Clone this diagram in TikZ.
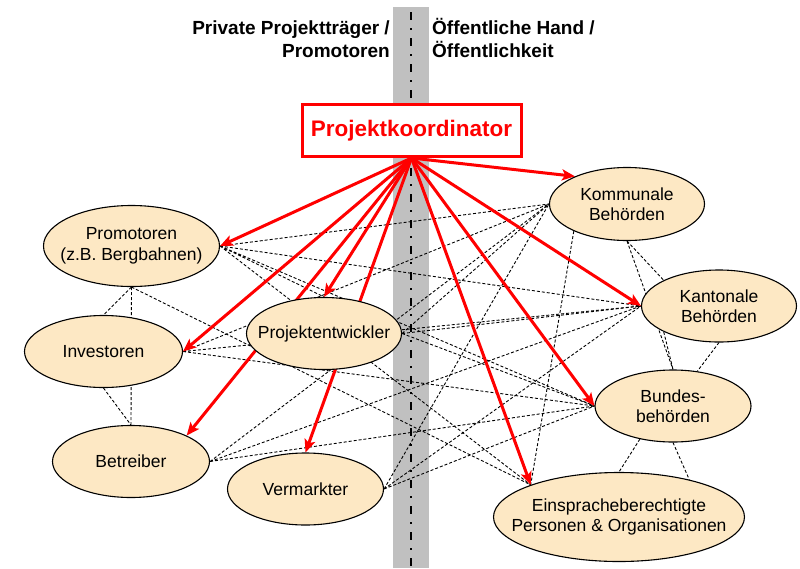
\documentclass[tikz,border=0pt]{standalone}
\usepackage{fontspec}
\setmainfont{Liberation Sans}
\usetikzlibrary{arrows.meta, shapes.geometric, backgrounds}
\definecolor{trenn}{HTML}{C0C0C0}
\definecolor{sand}{HTML}{FDE8C4}
\definecolor{signal}{HTML}{FF0000}

\begin{document}
\begin{tikzpicture}[x=1pt, y=-1pt,
  akteur/.style={ellipse, draw=black, line width=1.1pt, fill=sand,
    inner xsep=-30pt, inner ysep=0pt, align=center,
    font=\fontsize{17.5}{20.5}\selectfont},
  seite/.style={inner sep=0pt, font=\fontsize{19}{22.5}\selectfont\bfseries},
  koord/.style={rectangle, draw=signal, line width=3pt, fill=white,
    text=signal, minimum width=219pt, minimum height=52pt,
    font=\fontsize{22.5}{27}\selectfont\bfseries},
  auftrag/.style={-{Stealth[length=13pt, width=11pt, inset=3pt]},
    line width=3pt, signal},
  bezug/.style={dash pattern=on 3pt off 2pt, line width=0.9pt, black}]
  \useasboundingbox (0,0) rectangle (800,568);

  \node[seite, anchor=base east, align=right] (priv) at (390,57)
    {Private Projektträger /\\Promotoren};
  \node[seite, anchor=base west, align=left] (oeff) at (432,57)
    {Öffentliche Hand /\\Öffentlichkeit};
  \node[koord] (koo) at (411.5,130.5) {Projektkoordinator};

  \node[akteur, minimum width=176pt, minimum height=81pt] (pro) at (131.5,246)
    {Promotoren\\(z.B. Bergbahnen)};
  \node[akteur, minimum width=158pt, minimum height=72pt] (inv) at (103.5,351.5) {Investoren};
  \node[akteur, minimum width=157pt, minimum height=72pt] (bet) at (131,461.5) {Betreiber};
  \node[akteur, minimum width=155pt, minimum height=72pt] (pe) at (324,333.5) {Projektentwickler};
  \node[akteur, minimum width=156pt, minimum height=72pt] (ver) at (305.5,489) {Vermarkter};
  \node[akteur, minimum width=155pt, minimum height=73pt] (kom) at (627,204)
    {Kommunale\\Behörden};
  \node[akteur, minimum width=155pt, minimum height=72pt] (kan) at (719,306)
    {Kantonale\\Behörden};
  \node[akteur, minimum width=156pt, minimum height=72pt] (bun) at (673,406)
    {Bundes-\\behörden};
  \node[akteur, minimum width=251pt, minimum height=89pt] (ein) at (619,517)
    {Einspracheberechtigte\\Personen \& Organisationen};

  \begin{scope}[on background layer]
    \fill[trenn] (393,7) rectangle (429,568);
    \draw[line width=2pt, dash pattern=on 8pt off 8pt on 2pt off 8pt] (411,12) -- (411,568);

    \draw[bezug] (pro.east) -- (pe.north) (pro.east) -- (kom.west)
      (pro.east) -- (kan.west) (pro.east) -- (bun.west) (pro.east) -- (ein.160);
    \draw[bezug] (pro.south) -- (inv.north) (pro.south) -- (bet.north)
      (pro.south) -- (ein.160) (inv.south) -- (bet.north);
    \draw[bezug] (inv.east) -- (kom.west) (inv.east) -- (kan.west) (inv.east) -- (bun.west);
    \draw[bezug] (pe.east) -- (kom.west) (pe.east) -- (kan.west) (pe.east) -- (bun.west);
    \draw[bezug] (bet.east) -- (kom.west) (bet.east) -- (kan.west) (bet.east) -- (bun.west);
    \draw[bezug] (ver.east) -- (kom.west) (ver.east) -- (kan.west) (ver.east) -- (bun.west);
    \draw[bezug] (kom.207) -- (ein.160) (kom.south) -- (kan.155) (kom.south) -- (bun.north);
    \draw[bezug] (kan.205) -- (bun.north) (kan.south) -- (bun.55);
    \draw[bezug] (bun.225) -- (ein.north) (bun.south) -- (ein.28);

    \draw[auftrag] (koo.south) -- (pro.east);
    \draw[auftrag] (koo.south) -- (pe.north);
    \draw[auftrag] (koo.south) -- (inv.east);
    \draw[auftrag] (koo.south) -- (bet.25);
    \draw[auftrag] (koo.south) -- (ver.north);
    \draw[auftrag] (koo.south) -- (kom.152);
    \draw[auftrag] (koo.south) -- (kan.west);
    \draw[auftrag] (koo.south) -- (bun.west);
    \draw[auftrag] (koo.south) -- (ein.160);
  \end{scope}
\end{tikzpicture}
\end{document}
